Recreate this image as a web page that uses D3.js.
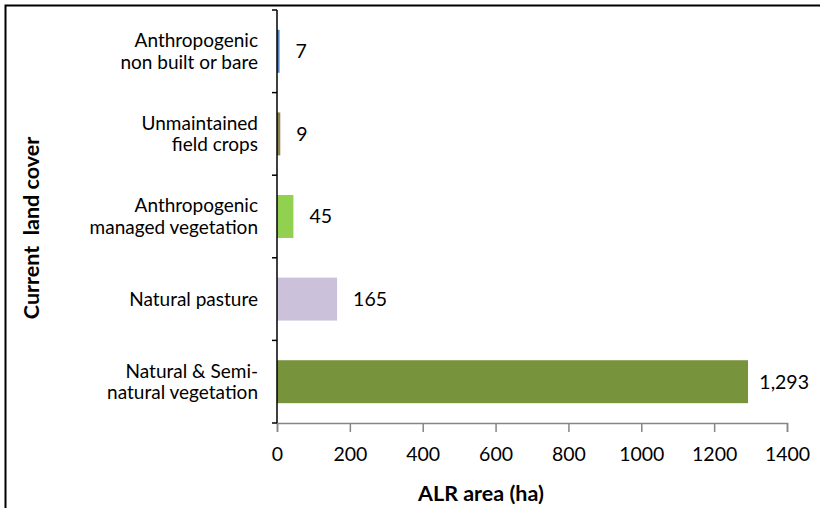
<!DOCTYPE html>
<html>
<head>
<meta charset="utf-8">
<script src="https://cdn.jsdelivr.net/npm/d3@7"></script>
<style>
  html, body { margin: 0; padding: 0; background: #fff; }
  svg { display: block; }
  text { font-family: Lato, "Liberation Sans", sans-serif; fill: #000; }
</style>
</head>
<body>
<svg id="chart" width="820" height="508"></svg>
<script>
// ---- data ----
const categories = [
  ["Anthropogenic", "non built or bare"],
  ["Unmaintained", "field crops"],
  ["Anthropogenic", "managed vegetation"],
  ["Natural pasture"],
  ["Natural & Semi-", "natural vegetation"]
];
const values = [7, 9, 45, 165, 1293];
const barColors = ["#4f81bd", "#8c8150", "#92d050", "#ccc1da", "#77933c"];
const xTicks = [0, 200, 400, 600, 800, 1000, 1200, 1400];
const xTitle = "ALR area (ha)";
const yTitle = "Current  land cover";

// ---- layout ----
const svg = d3.select("#chart");
const mLeft = 277, mRight = 787, mTop = 10, mBottom = 423;
const keys = categories.map((c, i) => i);

const x = d3.scaleLinear().domain([0, 1400]).range([mLeft, mRight]);
const y = d3.scaleBand().domain(keys).range([mTop, mBottom])
  .paddingInner(0.48).paddingOuter(0.24);

// frame (extends past right/bottom)
svg.append("rect").attr("x", 5.5).attr("y", 5.5).attr("width", 900).attr("height", 600)
  .attr("fill", "none").attr("stroke", "#000").attr("stroke-width", 2);

// bars
svg.append("g").selectAll("rect").data(keys).join("rect")
  .attr("x", x(0))
  .attr("y", d => y(d))
  .attr("width", d => x(values[d]) - x(0))
  .attr("height", y.bandwidth())
  .attr("fill", d => barColors[d]);

// x axis
const xAxis = d3.axisBottom(x).tickValues(xTicks).tickSize(9).tickPadding(15).tickFormat(d3.format("d"));
const gx = svg.append("g").attr("transform", `translate(0,${mBottom})`).call(xAxis);
gx.select(".domain").attr("stroke", "#868686").attr("stroke-width", 1.5);
gx.selectAll(".tick line").attr("stroke", "#868686").attr("stroke-width", 1.5);
gx.selectAll(".tick text").style("font-size", "19.5px").style("font-family", "Lato, sans-serif").attr("fill", "#000");

// y axis (manual band boundaries)
const step = y.step();
const boundaries = keys.map(k => y(k) - (step - y.bandwidth()) / 2).concat([mBottom]);
svg.append("line").attr("x1", mLeft).attr("x2", mLeft).attr("y1", mTop).attr("y2", mBottom)
  .attr("stroke", "#000").attr("stroke-width", 1.5);
svg.append("g").selectAll("line").data(boundaries).join("line")
  .attr("x1", mLeft - 5).attr("x2", mLeft).attr("y1", d => d).attr("y2", d => d)
  .attr("stroke", "#000").attr("stroke-width", 1.5);

// category labels
const lineH = 21.5;
const catG = svg.append("g");
keys.forEach(k => {
  const lines = categories[k];
  const cy = y(k) + y.bandwidth() / 2;
  const t = catG.append("text")
    .attr("text-anchor", "end")
    .style("font-size", "19px");
  lines.forEach((ln, i) => {
    t.append("tspan")
      .attr("x", mLeft - 19)
      .attr("y", cy + (i - (lines.length - 1) / 2) * lineH)
      .attr("dy", "0.35em")
      .text(ln);
  });
});

// value labels
const fmt = d3.format(",");
const valG = svg.append("g");
keys.forEach(k => {
  const t = valG.append("text")
    .attr("y", y(k) + y.bandwidth() / 2)
    .attr("dy", "0.35em")
    .style("font-size", "19.5px")
    .text(fmt(values[k]));
  const w = t.node().getComputedTextLength();
  t.attr("x", Math.min(x(values[k]) + 16, 809 - w));
});

// axis titles
svg.append("text").attr("x", 481).attr("y", 493).attr("dy", "0.35em")
  .attr("text-anchor", "middle").style("font-size", "21.5px").style("font-weight", "bold")
  .text(xTitle);
svg.append("text").attr("transform", "translate(31,228) rotate(-90)").attr("dy", "0.35em")
  .attr("text-anchor", "middle").style("font-size", "21.5px").style("font-weight", "bold")
  .style("white-space", "pre").attr("xml:space", "preserve")
  .text(yTitle);
</script>
</body>
</html>
